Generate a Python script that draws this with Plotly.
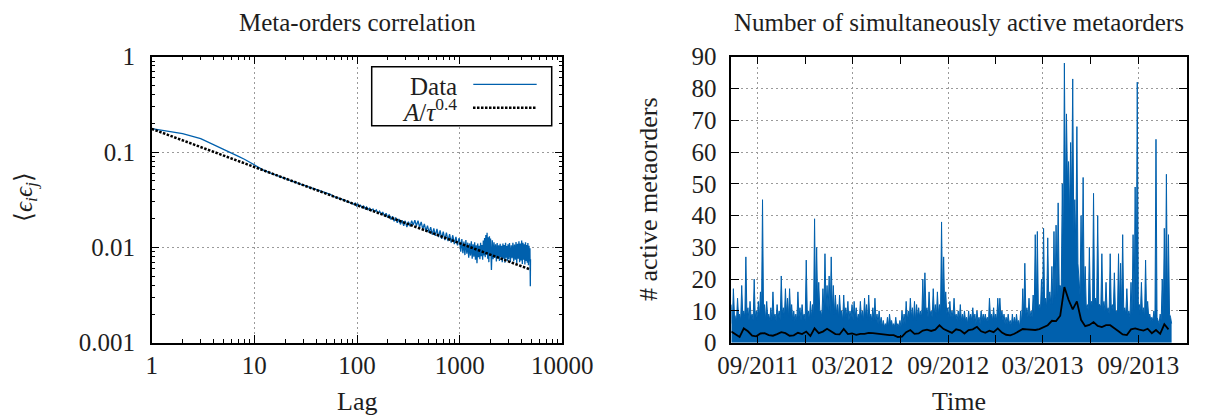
import plotly.graph_objects as go
import pandas as pd

# ---------------- Left panel: meta-order sign correlation ----------------
lag_values = [
    1, 2, 3, 4, 5, 6, 7, 8, 9, 10,
    12, 14, 16, 18, 20, 23, 26, 30, 34, 38,
    42, 46, 50, 55, 60, 66, 72, 80, 90, 93,
    96, 99, 102, 105, 108, 112, 116, 120, 124, 128,
    133, 138, 143, 148, 154, 160, 166, 172, 178, 185,
    192, 199, 206, 214, 222, 230, 238, 247, 256, 265,
    275, 285, 295, 306, 317, 329, 341, 353, 366, 379,
    393, 407, 422, 437, 453, 469, 486, 504, 522, 541,
    560, 580, 601, 623, 645, 668, 692, 717, 743, 770,
    798, 827, 857, 888, 920, 953, 987, 1000, 1025, 1050,
    1075, 1100, 1125, 1150, 1175, 1200, 1225, 1250, 1275, 1300,
    1325, 1350, 1375, 1400, 1425, 1450, 1475, 1500, 1525, 1550,
    1575, 1600, 1625, 1650, 1675, 1700, 1725, 1750, 1775, 1800,
    1825, 1850, 1875, 1900, 1925, 1950, 1975, 2000, 2040, 2080,
    2120, 2160, 2200, 2240, 2280, 2320, 2360, 2400, 2440, 2480,
    2520, 2560, 2600, 2640, 2680, 2720, 2760, 2800, 2840, 2880,
    2920, 2960, 3000, 3060, 3120, 3180, 3240, 3300, 3360, 3420,
    3480, 3540, 3600, 3660, 3720, 3780, 3840, 3900, 3960, 4020,
    4080, 4140, 4200, 4260, 4320, 4380, 4440, 4500, 4560, 4620,
    4680, 4740, 4800, 4840, 4860, 4880, 4900,
]
corr_values = [
    0.176, 0.156, 0.138, 0.120, 0.108, 0.098, 0.090, 0.084, 0.078, 0.073,
    0.0655, 0.0607, 0.0573, 0.0545, 0.0524, 0.0497, 0.0474, 0.0450, 0.0430, 0.0414,
    0.0401, 0.0390, 0.0378, 0.0360, 0.0340, 0.0330, 0.0318, 0.0303, 0.0290, 0.0283,
    0.0291, 0.0272, 0.0284, 0.0268, 0.0276, 0.0262, 0.0271, 0.0255, 0.0266, 0.0249,
    0.0258, 0.0243, 0.0252, 0.0236, 0.0247, 0.0228, 0.0240, 0.0222, 0.0235, 0.0214,
    0.0228, 0.0205, 0.0221, 0.0196, 0.0212, 0.0188, 0.0206, 0.0181, 0.0199, 0.0174,
    0.0193, 0.0168, 0.0190, 0.0163, 0.0186, 0.0166, 0.0190, 0.0171, 0.0193, 0.0168,
    0.0191, 0.0163, 0.0185, 0.0155, 0.0176, 0.0148, 0.0169, 0.0142, 0.0163, 0.0136,
    0.0158, 0.0132, 0.0156, 0.0128, 0.0151, 0.0123, 0.0146, 0.0119, 0.0143, 0.0116,
    0.0138, 0.0112, 0.0134, 0.0108, 0.0129, 0.0105, 0.0125, 0.0118, 0.0090, 0.0122,
    0.0087, 0.0115, 0.0083, 0.0119, 0.0086, 0.0112, 0.0078, 0.0110, 0.0082, 0.0116,
    0.0076, 0.0108, 0.0080, 0.0113, 0.0074, 0.0105, 0.0068, 0.0110, 0.0079, 0.0104,
    0.0075, 0.0112, 0.0081, 0.0106, 0.0074, 0.0118, 0.0082, 0.0125, 0.0079, 0.0135,
    0.0084, 0.0142, 0.0076, 0.0128, 0.0070, 0.0131, 0.0081, 0.0124, 0.0058, 0.0119,
    0.0075, 0.0113, 0.0078, 0.0108, 0.0071, 0.0111, 0.0077, 0.0105, 0.0072, 0.0109,
    0.0079, 0.0104, 0.0070, 0.0110, 0.0076, 0.0106, 0.0069, 0.0112, 0.0078, 0.0103,
    0.0072, 0.0108, 0.0075, 0.0111, 0.0070, 0.0105, 0.0077, 0.0112, 0.0071, 0.0107,
    0.0074, 0.0114, 0.0068, 0.0109, 0.0076, 0.0116, 0.0070, 0.0110, 0.0073, 0.0118,
    0.0067, 0.0112, 0.0074, 0.0108, 0.0066, 0.0113, 0.0072, 0.0106, 0.0069, 0.0111,
    0.0065, 0.0104, 0.0071, 0.0098, 0.0060, 0.0039, 0.0075,
]
fit_amplitude = 0.175
fit_exponent = 0.4

lag_tick_values = [1, 10, 100, 1000, 10000]
lag_tick_labels = ["1", "10", "100", "1000", "10000"]
corr_tick_values = [0.001, 0.01, 0.1, 1]
corr_tick_labels = ["0.001", "0.01", "0.1", "1"]

# ---------------- Right panel: simultaneously active metaorders ----------------
active_start = "2011-07-12"
active_peaks = [  # highest count in each 4-day step
    12, 17, 8, 14, 9, 18, 10, 27, 11, 13,
    9, 20, 10, 13, 16, 45, 12, 13, 9, 11,
    16, 9, 12, 10, 21, 11, 17, 14, 17, 12,
    10, 9, 16, 11, 12, 9, 26, 10, 13, 12,
    39, 30, 19, 10, 17, 28, 18, 21, 27, 18,
    15, 12, 15, 10, 15, 11, 13, 10, 12, 13,
    11, 9, 13, 10, 14, 12, 15, 9, 11, 14,
    9, 10, 8, 7, 6, 8, 9, 7, 6, 8,
    6, 7, 10, 9, 13, 10, 14, 11, 13, 12,
    11, 10, 20, 22, 11, 16, 10, 17, 12, 16,
    12, 38, 27, 16, 11, 13, 10, 14, 9, 10,
    12, 9, 10, 8, 10, 9, 11, 9, 10, 8,
    10, 9, 9, 8, 14, 9, 11, 9, 14, 14,
    10, 9, 8, 9, 7, 9, 8, 9, 7, 10,
    17, 25, 11, 14, 10, 15, 34, 35, 12, 20,
    36, 14, 33, 16, 24, 35, 37, 44, 18, 50,
    88, 72, 57, 63, 83, 45, 68, 20, 40, 52,
    24, 12, 30, 13, 47, 14, 40, 12, 28, 13,
    19, 11, 28, 12, 22, 10, 28, 25, 34, 11,
    17, 10, 19, 34, 49, 82, 12, 19, 11, 26,
    13, 9, 8, 10, 64, 7, 9, 20, 36, 53, 34, 8,
]
active_floor = [  # level of the dense band between the peaks
    6, 9, 7, 8, 7, 9, 8, 9, 7, 8,
    7, 8, 7, 8, 9, 8, 7, 8, 7, 7,
    8, 7, 8, 7, 9, 8, 9, 8, 9, 7,
    7, 7, 8, 7, 8, 7, 9, 7, 8, 8,
    10, 11, 10, 8, 10, 11, 10, 9, 10, 9,
    9, 8, 9, 7, 8, 8, 7, 8, 7, 8,
    7, 7, 8, 7, 8, 7, 8, 7, 7, 7,
    6, 6, 5, 5, 5, 5, 6, 5, 5, 5,
    5, 5, 6, 6, 7, 7, 8, 7, 7, 8,
    8, 8, 9, 10, 8, 9, 8, 9, 8, 9,
    9, 11, 10, 9, 8, 8, 8, 8, 7, 7,
    7, 7, 7, 6, 7, 7, 7, 6, 7, 6,
    7, 7, 7, 6, 8, 7, 7, 7, 8, 8,
    7, 6, 6, 6, 5, 6, 6, 6, 5, 6,
    8, 9, 8, 8, 8, 9, 10, 11, 10, 11,
    12, 11, 13, 12, 12, 14, 15, 18, 17, 25,
    45, 50, 40, 45, 35, 30, 25, 15, 18, 15,
    11, 10, 12, 11, 13, 12, 12, 11, 11, 10,
    10, 9, 11, 10, 10, 9, 11, 10, 10, 9,
    9, 8, 9, 10, 11, 12, 9, 9, 8, 9,
    8, 7, 7, 7, 8, 6, 7, 8, 10, 11, 9, 6,
]
average_counts = [  # moving average, one value every 8 days
    3.5, 2.7, 1.8, 4.5, 3.6, 2.2, 2.0, 2.9, 3.0, 2.4,
    2.2, 2.7, 3.3, 3.0, 2.2, 2.3, 3.1, 2.7, 3.5, 2.1,
    4.5, 3.0, 3.5, 4.4, 3.6, 2.7, 2.6, 4.3, 2.7, 2.9,
    2.5, 2.8, 2.8, 3.1, 3.0, 2.8, 2.7, 2.5, 2.4, 2.4,
    1.8, 1.9, 3.3, 4.0, 2.8, 2.9, 3.8, 4.1, 3.7, 4.1,
    5.5, 4.3, 3.8, 3.1, 4.2, 3.9, 2.9, 4.0, 4.2, 5.0,
    3.6, 3.1, 3.8, 3.3, 4.5, 3.2, 2.5, 2.3, 2.8, 3.5,
    4.3, 4.2, 4.1, 4.0, 4.3, 5.0, 5.5, 6.9, 6.8, 8.5,
    17.5, 13.5, 10.5, 13.0, 7.2, 5.2, 5.6, 6.5, 5.3, 4.9,
    5.5, 5.5, 4.4, 3.6, 2.6, 2.4, 4.2, 4.5, 4.1, 3.8,
    4.4, 3.0, 4.0, 2.8, 5.8, 4.2,
]
date_tick_values = ["2011-09-01", "2012-03-01", "2012-09-01", "2013-03-01", "2013-09-01"]
date_tick_labels = ["09/2011", "03/2012", "09/2012", "03/2013", "09/2013"]
date_minor_ticks = ["2011-12-01", "2012-06-01", "2012-12-01", "2013-06-01"]
date_range = ["2011-07-12", "2013-12-03"]
count_tick_values = [0, 10, 20, 30, 40, 50, 60, 70, 80, 90]

# ---------------- styling ----------------
BLUE = "#0060ad"
FONT = "Liberation Serif"
TXT = "#1e1e1e"
PAGE_OFFSET = 8              # default body margin of the html page
W, H = 1206 - PAGE_OFFSET, 416 - PAGE_OFFSET


def fx(px):  # page pixel -> paper fraction
    return (px - PAGE_OFFSET) / W


def fy(py):
    return 1 - (py - PAGE_OFFSET) / H


fit_values = [fit_amplitude / (t ** fit_exponent) for t in lag_values]

# peaks on the 4-day grid, the band floor half-way between them
peak_dates = pd.date_range(active_start, periods=len(active_peaks), freq="4D")
floor_dates = peak_dates + pd.Timedelta(days=2)
band_x, band_y = [], []
for pdt, pv, fdt, fv in zip(peak_dates, active_peaks, floor_dates, active_floor):
    band_x += [pdt, fdt]
    band_y += [pv, fv]
average_dates = pd.date_range(active_start, periods=len(average_counts), freq="8D")

fig = go.Figure()
fig.add_trace(go.Scatter(x=lag_values, y=corr_values, mode="lines",
                         line=dict(color=BLUE, width=1.3), xaxis="x", yaxis="y",
                         showlegend=False, hoverinfo="skip"))
fig.add_trace(go.Scatter(x=lag_values, y=fit_values, mode="lines",
                         line=dict(color="black", width=2.5, dash="2.5px,1.5px"),
                         xaxis="x", yaxis="y", showlegend=False, hoverinfo="skip"))
fig.add_trace(go.Scatter(x=band_x, y=band_y, mode="lines",
                         fill="tozeroy", fillcolor=BLUE,
                         line=dict(color=BLUE, width=1), xaxis="x2", yaxis="y2",
                         showlegend=False, hoverinfo="skip"))
fig.add_trace(go.Scatter(x=average_dates, y=average_counts, mode="lines",
                         line=dict(color="black", width=1.8), xaxis="x2", yaxis="y2",
                         showlegend=False, hoverinfo="skip"))

common = dict(showline=True, linecolor="black", linewidth=1.5, mirror="ticks",
              ticks="inside", ticklen=8, tickwidth=1, tickcolor="black",
              showgrid=True, gridcolor="#9a9a9a", gridwidth=1, griddash="2px,3px",
              zeroline=False, tickfont=dict(family=FONT, size=25, color=TXT),
              automargin=False)

minor_lag = [k * 10 ** e for e in range(0, 4) for k in range(2, 10)]
minor_corr = [k * 10.0 ** e for e in range(-3, 0) for k in range(2, 10)]

left_dom = [fx(151.7), fx(562.3)]
right_dom = [fx(731.3), fx(1186.7)]
y_dom = [fy(342.7), fy(56.7)]

fig.update_layout(
    width=W, height=H, autosize=False,
    margin=dict(l=0, r=0, t=0, b=0, pad=0),
    paper_bgcolor="white", plot_bgcolor="white",
    showlegend=False,
    xaxis=dict(common, type="log", range=[0, 4], domain=left_dom, anchor="y",
               tickmode="array", tickvals=lag_tick_values, ticktext=lag_tick_labels,
               ticklabelstandoff=0,
               minor=dict(tickmode="array", tickvals=minor_lag, ticks="inside",
                          ticklen=4, tickcolor="black", showgrid=False)),
    yaxis=dict(common, type="log", range=[-3, 0], domain=y_dom, anchor="x",
               tickmode="array", tickvals=corr_tick_values, ticktext=corr_tick_labels,
               ticklabelstandoff=10,
               minor=dict(tickmode="array", tickvals=minor_corr, ticks="inside",
                          ticklen=4, tickcolor="black", showgrid=False)),
    xaxis2=dict(common, type="date", range=date_range, domain=right_dom, anchor="y2",
                tickmode="array", tickvals=date_tick_values, ticktext=date_tick_labels,
                ticklabelstandoff=0,
                minor=dict(tickmode="array", tickvals=date_minor_ticks, ticks="inside",
                           ticklen=8, tickcolor="black", showgrid=False)),
    yaxis2=dict(common, range=[0, 90], domain=y_dom, anchor="x2",
                tickmode="array", tickvals=count_tick_values, ticklabelstandoff=8),
)


def ann(text, x, y, size=26, angle=0, xanchor="center", xref="paper", yref="paper"):
    return dict(text=text, x=x, y=y, xref=xref, yref=yref, showarrow=False,
                xanchor=xanchor, yanchor="middle", textangle=angle,
                font=dict(family=FONT, size=size, color=TXT))


left_cx = fx((151.7 + 562.3) / 2)
right_cx = fx((731.3 + 1186.7) / 2)
annotations = [
    ann("Meta-orders correlation", left_cx, fy(23), size=25),
    ann("Number of simultaneously active metaorders", right_cx, fy(23), size=25),
    ann("Lag", left_cx, fy(401)),
    ann("Time", right_cx, fy(401)),
    ann("⟨<i>ϵ<sub>i</sub>ϵ<sub>j</sub></i>⟩", fx(25), fy(197), size=25, angle=-90),
    ann("# active metaorders", fx(648), fy(199), angle=-90),
    ann("Data", 0.7484, 0.897, size=25, xanchor="right", xref="x domain", yref="y domain"),
    ann("<i>A</i>/<i>τ</i><sup>0.4</sup>", 0.7484, 0.812, size=25, xanchor="right",
        xref="x domain", yref="y domain"),
]
shapes = [
    dict(type="rect", xref="x domain", yref="y domain", x0=0.5358, x1=0.9742,
         y0=0.7587, y1=0.965, line=dict(color="black", width=1.5), fillcolor="white",
         layer="above"),
    dict(type="line", xref="x domain", yref="y domain", x0=0.7832, x1=0.9376,
         y0=0.9035, y1=0.9035, line=dict(color=BLUE, width=1.2)),
    dict(type="line", xref="x domain", yref="y domain", x0=0.7825, x1=0.9352,
         y0=0.8217, y1=0.8217, line=dict(color="black", width=2.5, dash="2.5px,1.5px")),
]
fig.update_layout(annotations=annotations, shapes=shapes)

fig.write_html("out.html")
